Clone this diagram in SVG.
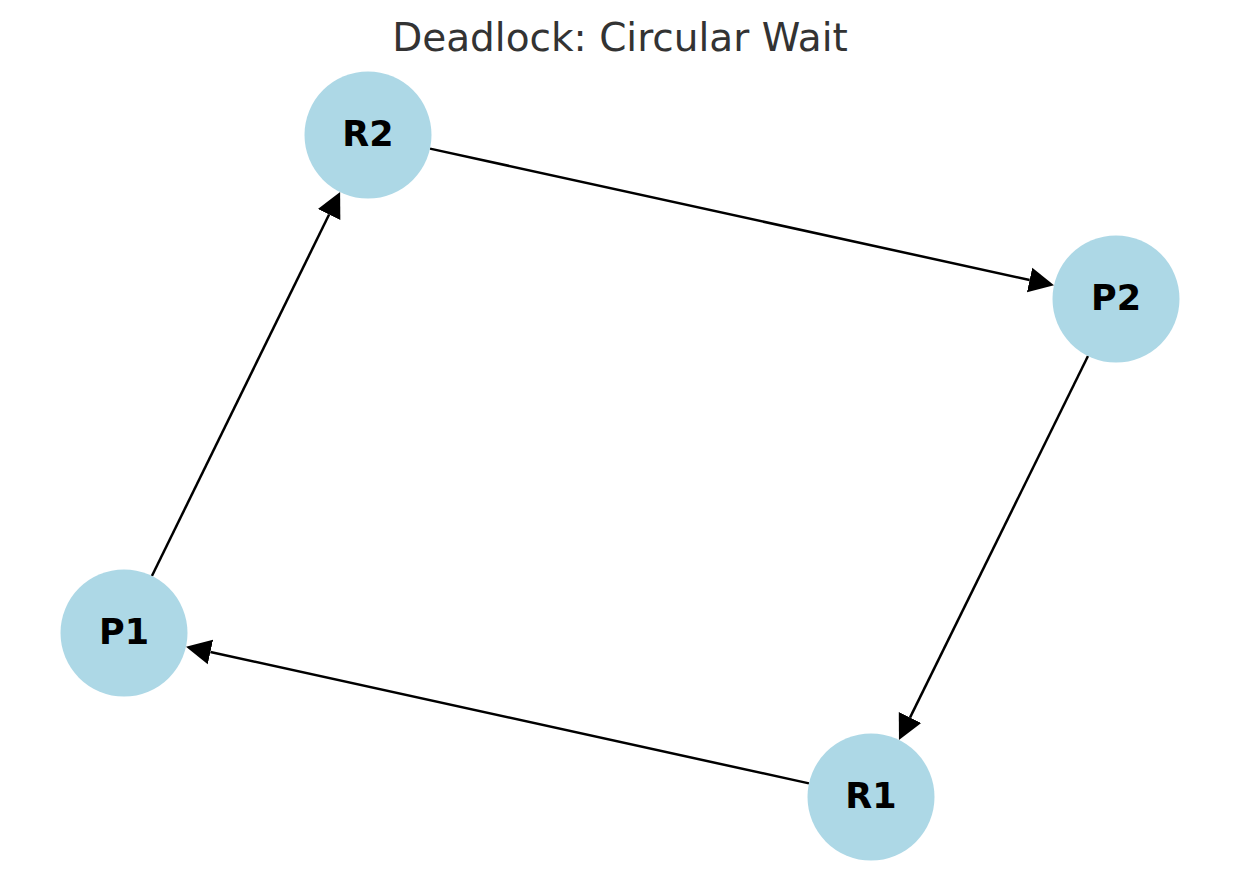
<svg xmlns="http://www.w3.org/2000/svg" width="1239" height="886" viewBox="0 0 1239 886">
<style>
.node{fill:#ADD8E6}
.lbl{font-family:"DejaVu Sans",sans-serif;font-weight:bold;font-size:35px;fill:#000;text-anchor:middle}
.edge{stroke:#000;stroke-width:2.5;fill:none}
.title{font-family:"DejaVu Sans",sans-serif;font-size:39px;fill:#333;text-anchor:middle}
</style>
<defs>
<marker id="arr" markerUnits="userSpaceOnUse" markerWidth="27" markerHeight="28" viewBox="0 -14 27 28" refX="0" refY="0" orient="auto">
<path d="M0,-12.5 L25,0 L0,12.5 z" fill="#000"/>
</marker>
</defs>
<rect width="1239" height="886" fill="#fff"/>
<text class="title" x="620" y="51">Deadlock: Circular Wait</text>
<g id="edges">
<line class="edge" x1="430.0" y1="148.6" x2="1029.6" y2="280.0" marker-end="url(#arr)"/>
<line class="edge" x1="1088.0" y1="356.0" x2="910.0" y2="717.6" marker-end="url(#arr)"/>
<line class="edge" x1="809.0" y1="783.4" x2="210.4" y2="652.0" marker-end="url(#arr)"/>
<line class="edge" x1="151.9" y1="576.0" x2="329.1" y2="214.5" marker-end="url(#arr)"/>
</g>
<g id="R2"><circle class="node" cx="368" cy="135" r="63.5"/><text class="lbl" x="368" y="145.5">R2</text></g>
<g id="P2"><circle class="node" cx="1116" cy="299" r="63.5"/><text class="lbl" x="1116" y="309.5">P2</text></g>
<g id="P1"><circle class="node" cx="124" cy="633" r="63.5"/><text class="lbl" x="124" y="643.5">P1</text></g>
<g id="R1"><circle class="node" cx="871" cy="797" r="63.5"/><text class="lbl" x="871" y="807.5">R1</text></g>
</svg>
